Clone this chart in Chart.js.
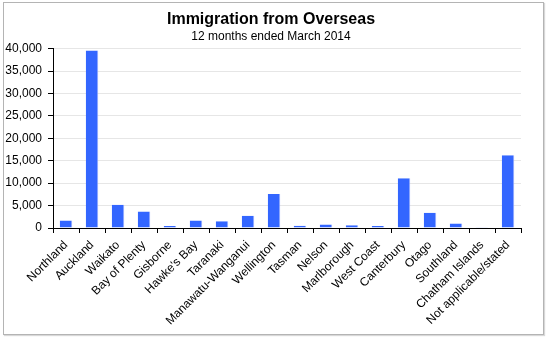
<!DOCTYPE html>
<html>
<head>
<meta charset="utf-8">
<script src="https://cdn.jsdelivr.net/npm/chart.js@4/dist/chart.umd.min.js"></script>
<style>
html,body{margin:0;padding:0;background:#fff;}
#wrap{position:relative;width:550px;height:339px;}
#frame{position:absolute;left:3px;top:2px;width:539px;height:331px;border:1px solid #b4b4b4;box-shadow:1px 1px 1px #d8d8d8;pointer-events:none;}
canvas{position:absolute;left:0;top:0;}
</style>
</head>
<body>
<div id="wrap">
<canvas id="c" width="550" height="339"></canvas>
<div id="frame"></div>
</div>
<script>
const categories = ["Northland","Auckland","Waikato","Bay of Plenty","Gisborne","Hawke's Bay","Taranaki","Manawatu-Wanganui","Wellington","Tasman","Nelson","Marlborough","West Coast","Canterbury","Otago","Southland","Chatham Islands","Not applicable/stated"];
const immigrants = [1700,39600,5200,3700,450,1700,1500,2750,7600,500,800,600,450,11100,3400,1000,50,16200];
const titleText = "Immigration from Overseas";
const subtitleText = "12 months ended March 2014";

const FONT = "Arial, 'Liberation Sans', sans-serif";
Chart.defaults.font.family = FONT;
Chart.defaults.color = "#000";

// shift the title blocks slightly right to match the reference centring
const titleShift = {
  id: 'titleShift',
  afterLayout(chart) {
    chart.boxes.forEach(b => {
      if (b.options && b.options.text !== undefined && b.position === 'top') {
        b.left += 8; b.right += 8;
      }
    });
  }
};

new Chart(document.getElementById('c'), {
  type: 'bar',
  data: {
    labels: categories,
    datasets: [{
      data: immigrants,
      backgroundColor: '#3366ff',
      borderColor: '#8fa8ff',
      borderWidth: {top:0,left:0,right:1,bottom:0},
      categoryPercentage: 1.0,
      barPercentage: 0.48
    }]
  },
  plugins: [titleShift],
  options: {
    responsive: false,
    animation: false,
    layout: { padding: { left: 5, right: 29, top: 0, bottom: 0 } },
    plugins: {
      legend: { display: false },
      tooltip: { enabled: false },
      title: {
        display: true, text: titleText,
        font: { size: 16, weight: 'bold', family: FONT },
        color: '#000',
        padding: { top: 10, bottom: 0 }
      },
      subtitle: {
        display: true, text: subtitleText,
        font: { size: 12, family: FONT },
        color: '#000',
        padding: { top: 0, bottom: 5 }
      }
    },
    scales: {
      x: {
        grid: { offset: true, drawOnChartArea: false, drawTicks: true, tickLength: 5, color: '#000' },
        border: { color: '#000', width: 1 },
        ticks: { maxRotation: 45, minRotation: 45, autoSkip: false, font: { size: 12, family: FONT }, color: '#000', padding: 5 },
        afterFit: (s) => { s.height = 111; }
      },
      y: {
        min: 0, max: 40000,
        ticks: { stepSize: 5000, font: { size: 12, family: FONT }, color: '#000', padding: 6,
          callback: (v) => v.toLocaleString('en-US') },
        grid: { color: '#e6e6e6', tickColor: '#000', tickLength: 5 },
        border: { color: '#000', width: 1 },
        afterFit: (s) => { s.width = 48; }
      }
    }
  }
});
</script>
</body>
</html>
